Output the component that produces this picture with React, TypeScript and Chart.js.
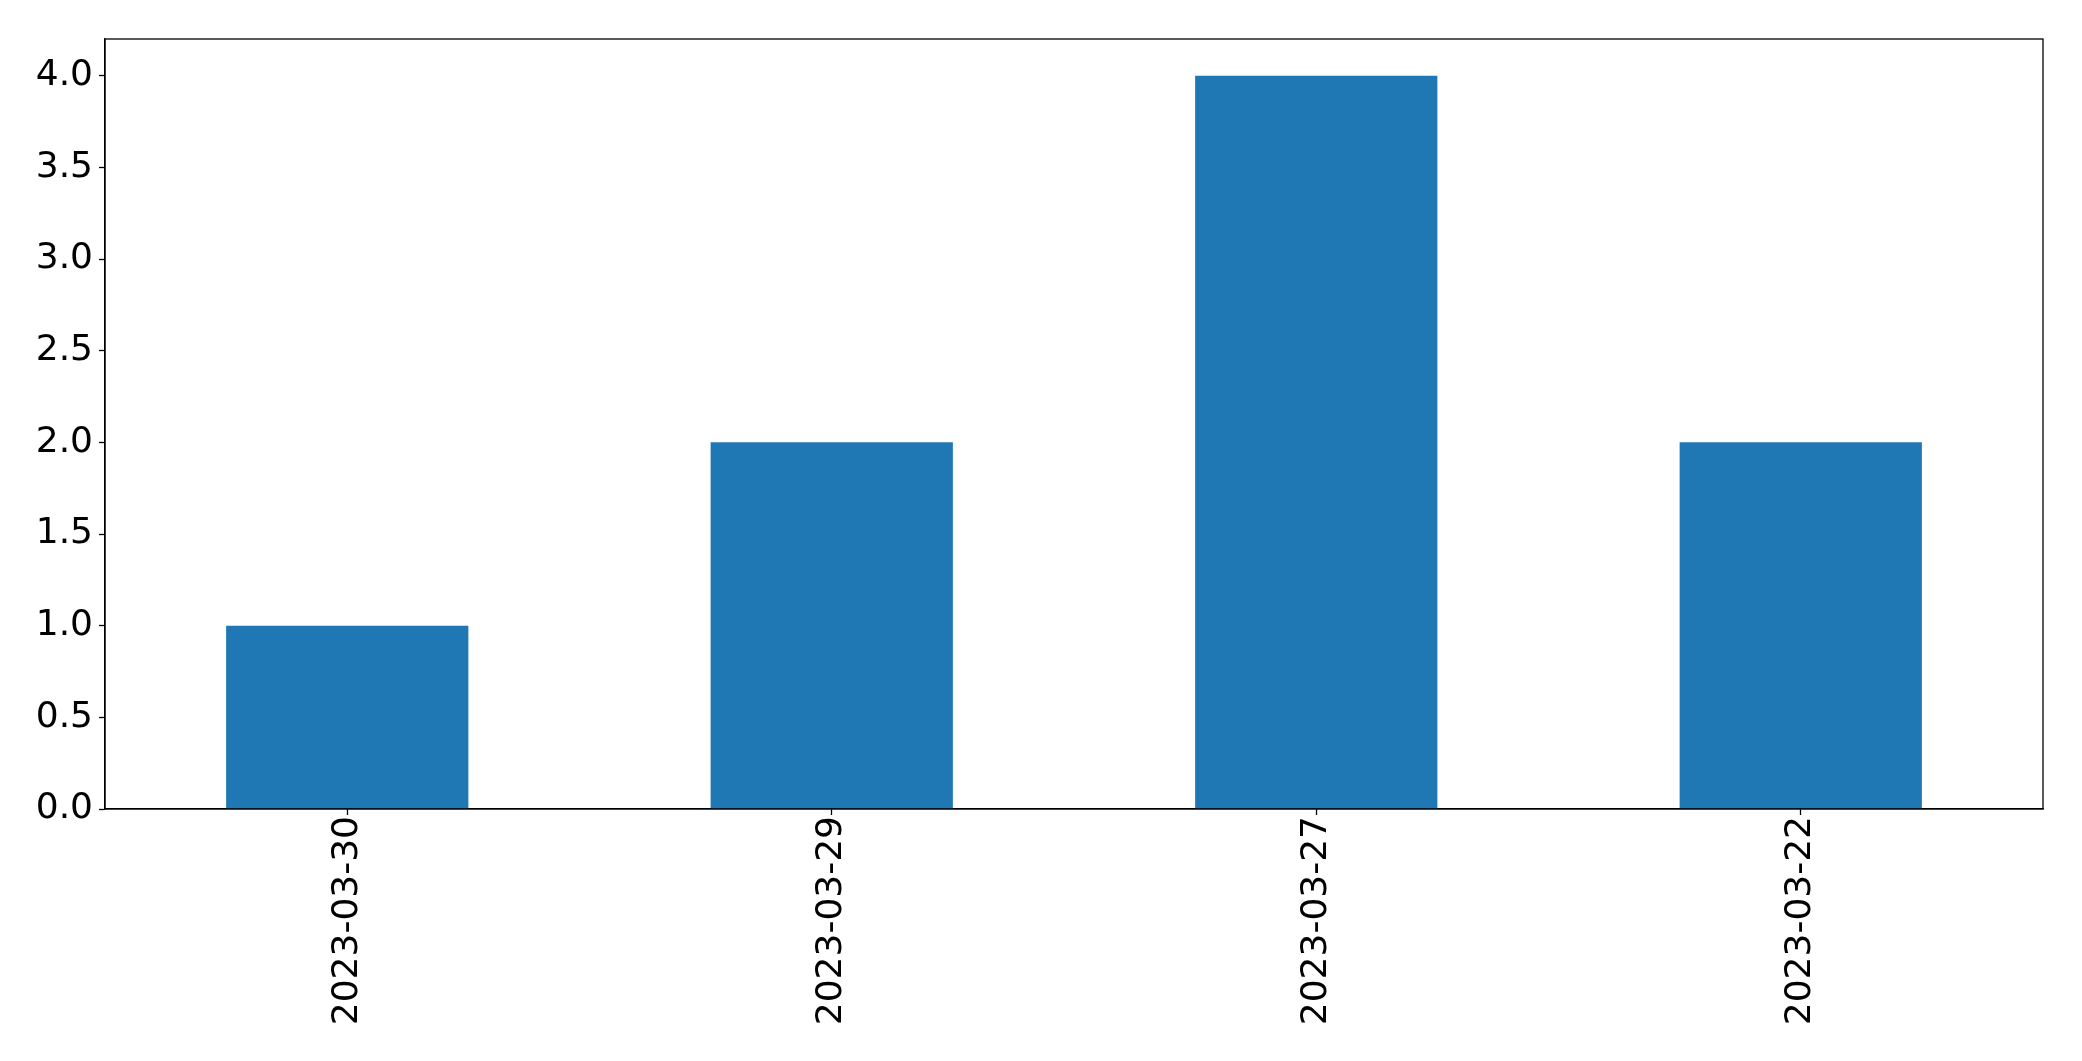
import React, { useEffect, useRef } from 'react';
import { Chart, registerables } from 'chart.js';

Chart.register(...registerables);

const dates = ['2023-03-30', '2023-03-29', '2023-03-27', '2023-03-22'];
const counts = [1, 2, 4, 2];
const yTicks = [0, 0.5, 1, 1.5, 2, 2.5, 3, 3.5, 4];

const FONT = { family: 'DejaVu Sans', size: 36 };

// draws the matplotlib-style box around the plot area
const frame = {
  id: 'frame',
  afterDraw(chart: Chart) {
    const { ctx, chartArea } = chart;
    ctx.save();
    ctx.strokeStyle = '#000';
    ctx.lineWidth = 1.3;
    ctx.strokeRect(chartArea.left, chartArea.top, chartArea.right - chartArea.left, chartArea.bottom - chartArea.top);
    ctx.restore();
  },
};

export default function App() {
  const canvasRef = useRef<HTMLCanvasElement>(null);

  useEffect(() => {
    document.body.style.margin = '0';
    document.body.style.overflow = 'hidden';
    if (!canvasRef.current) return;

    const chart = new Chart(canvasRef.current, {
      type: 'bar',
      data: {
        labels: dates,
        datasets: [
          {
            data: counts,
            backgroundColor: '#1f77b4',
            categoryPercentage: 1,
            barPercentage: 0.5,
          },
        ],
      },
      options: {
        animation: false,
        responsive: false,
        devicePixelRatio: 1,
        layout: { padding: { top: 39, right: 39, left: 0, bottom: 0 } },
        plugins: {
          legend: { display: false },
          tooltip: { enabled: false },
        },
        scales: {
          x: {
            grid: {
              display: true,
              offset: false,
              drawOnChartArea: false,
              tickLength: 6,
              tickColor: '#000',
              tickWidth: 1.3,
            },
            border: { color: '#000', width: 1.3 },
            ticks: {
              color: '#000',
              font: FONT,
              minRotation: 90,
              maxRotation: 90,
              padding: 1,
            },
            afterFit: (scale: any) => {
              scale.height = 252;
            },
          },
          y: {
            min: 0,
            max: 4.2,
            afterBuildTicks: (scale: any) => {
              scale.ticks = yTicks.map((v) => ({ value: v }));
            },
            grid: { display: true, drawOnChartArea: false, tickLength: 6, tickColor: '#000', tickWidth: 1.3 },
            border: { color: '#000', width: 1.3 },
            ticks: {
              color: '#000',
              font: FONT,
              padding: 6,
              callback: (v: any) => Number(v).toFixed(1),
            },
            afterFit: (scale: any) => {
              scale.width = 105;
            },
          },
        },
      },
      plugins: [frame],
    });

    return () => chart.destroy();
  }, []);

  return (
    <div style={{ width: 2082, height: 1061, background: '#fff' }}>
      <canvas ref={canvasRef} width={2082} height={1061}></canvas>
    </div>
  );
}
